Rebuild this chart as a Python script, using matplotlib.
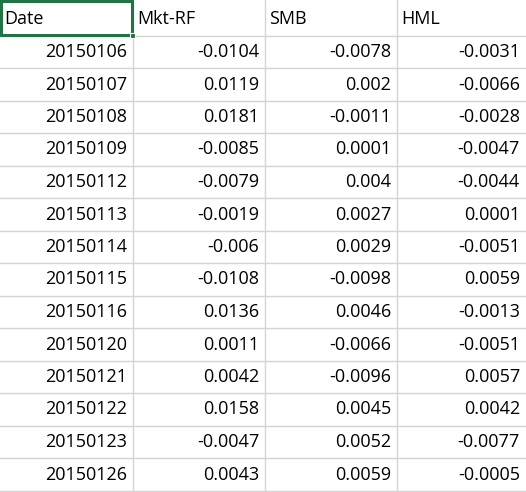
import matplotlib.pyplot as plt
from matplotlib.patches import Rectangle

headers = ["Date", "Mkt-RF", "SMB", "HML"]
dates = ["20150106", "20150107", "20150108", "20150109", "20150112", "20150113",
         "20150114", "20150115", "20150116", "20150120", "20150121", "20150122",
         "20150123", "20150126"]
mkt_rf = ["-0.0104", "0.0119", "0.0181", "-0.0085", "-0.0079", "-0.0019", "-0.006",
          "-0.0108", "0.0136", "0.0011", "0.0042", "0.0158", "-0.0047", "0.0043"]
smb = ["-0.0078", "0.002", "-0.0011", "0.0001", "0.004", "0.0027", "0.0029",
       "-0.0098", "0.0046", "-0.0066", "-0.0096", "0.0045", "0.0052", "0.0059"]
hml = ["-0.0031", "-0.0066", "-0.0028", "-0.0047", "-0.0044", "0.0001", "-0.0051",
       "0.0059", "-0.0013", "-0.0051", "0.0057", "0.0042", "-0.0077", "-0.0005"]

W, H = 526, 492
col_edges = [0, 133, 265, 397, 526]
row_h = 32.5
first_center = 19.5

fig = plt.figure(figsize=(W / 100, H / 100), dpi=100)
ax = fig.add_axes([0, 0, 1, 1])
ax.set_xlim(0, W)
ax.set_ylim(H, 0)
ax.axis("off")

font = dict(family="Open Sans", fontsize=13, color="black", va="center")

# gridlines
for x in col_edges[1:-1]:
    ax.axvline(x, color="#d4d4d4", lw=1)
for i in range(15):
    y = first_center + row_h * (i + 0.5)
    ax.axhline(y, color="#d4d4d4", lw=1)

# header
for c, h in enumerate(headers):
    ax.text(col_edges[c] + 4, first_center, h, ha="left", **font)

# data
columns = [dates, mkt_rf, smb, hml]
for c, col in enumerate(columns):
    for r, v in enumerate(col):
        y = first_center + row_h * (r + 1)
        ax.text(col_edges[c + 1] - 6, y, v, ha="right", **font)

# selected cell border
ax.add_patch(Rectangle((1, 1), col_edges[1] - 2, first_center + row_h / 2 - 2,
                       fill=False, ec="#217346", lw=2.2, zorder=5))
ax.add_patch(Rectangle((col_edges[1] - 3, first_center + row_h / 2 - 3), 5, 5,
                       fc="#217346", ec="white", lw=0.8, zorder=6))

fig.savefig("out.png", dpi=100)
